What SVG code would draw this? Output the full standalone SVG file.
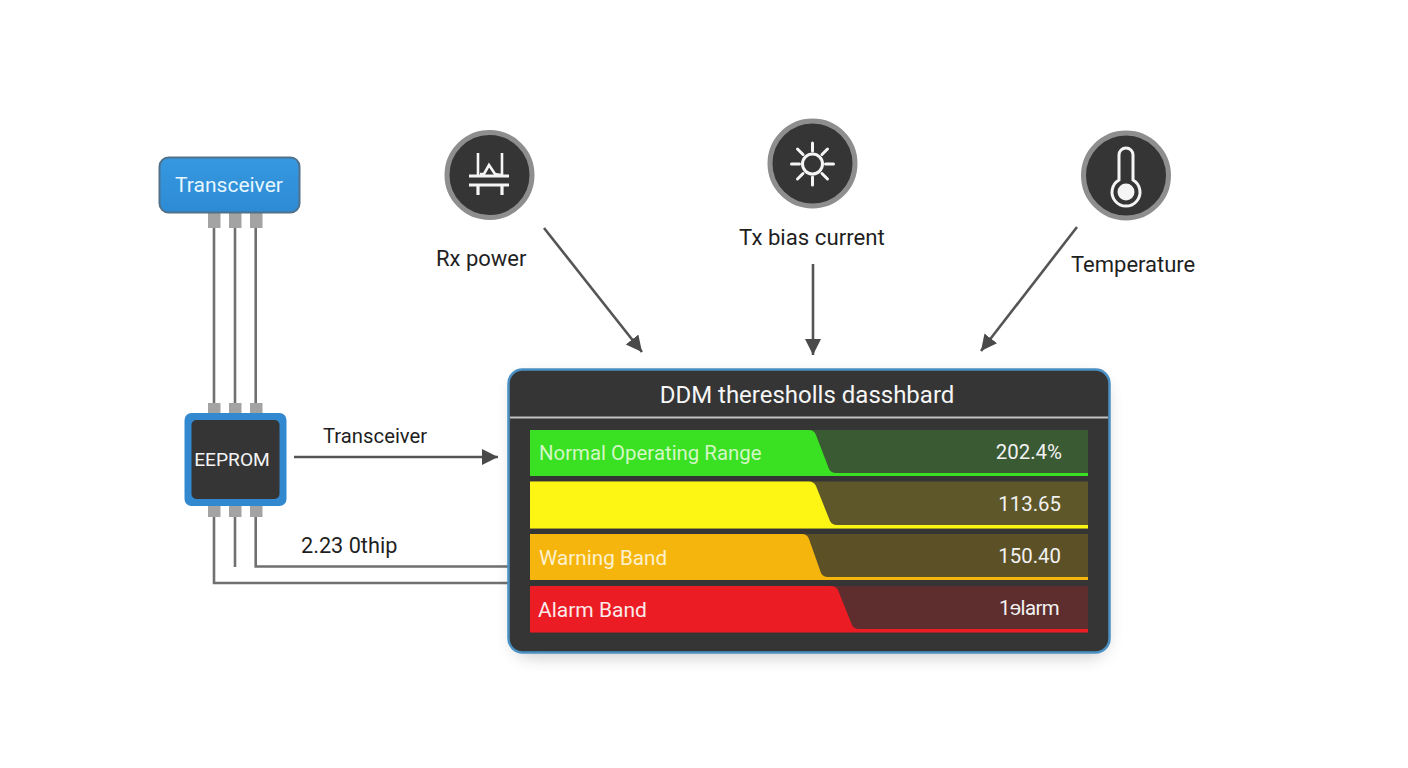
<svg xmlns="http://www.w3.org/2000/svg" width="1408" height="768" viewBox="0 0 1408 768">
<defs>
<filter id="sh" x="-10%" y="-10%" width="120%" height="125%"><feGaussianBlur stdDeviation="9"/></filter>
<linearGradient id="blue" x1="0" y1="0" x2="0" y2="1"><stop offset="0" stop-color="#3598e0"/><stop offset="1" stop-color="#2d8bd4"/></linearGradient>
<marker id="arr" markerUnits="userSpaceOnUse" markerWidth="18" markerHeight="18" refX="16" refY="8" orient="auto"><path d="M0 0L16 8L0 16Z" fill="#4a4a4a"/></marker>
</defs>
<style>
text{font-family:Roboto,"Liberation Sans",sans-serif}
.lab{font-size:22px;fill:#1f1f1f}
.pin{fill:#a3a3a3}
.wire{fill:none;stroke:#707070;stroke-width:2.6}
.arrow{fill:none;stroke:#555;stroke-width:2.6;marker-end:url(#arr)}
.ic{fill:none;stroke:#f5f5f5;stroke-width:2.6}
.disc{fill:#353535;stroke:#8e8e8e;stroke-width:5}
</style>
<rect width="1408" height="768" fill="#ffffff"/>

<g id="connectors">
<path class="wire" d="M214 228V404M235 228V404M255.700 228V404"/>
<path class="wire" d="M214 516V583H510M235 516V567M255.700 516V566.500H510"/>
<path class="arrow" d="M294 457H498"/>
<path class="arrow" d="M544 228L642 352"/>
<path class="arrow" d="M813 264V355"/>
<path class="arrow" d="M1077 227L981 351"/>
</g>

<g id="transceiver">
<rect x="208" y="213" width="12.500" height="15" class="pin"/><rect x="229" y="213" width="12.500" height="15" class="pin"/><rect x="250" y="213" width="12.500" height="15" class="pin"/>
<rect x="159.500" y="157.500" width="140" height="55" rx="9" fill="url(#blue)" stroke="#51718a" stroke-width="2"/>
<text x="229" y="192" text-anchor="middle" font-size="21" fill="#e6f6ff">Transceiver</text>
</g>

<g id="eeprom">
<rect x="208" y="403" width="12.500" height="11" class="pin"/><rect x="229" y="403" width="12.500" height="11" class="pin"/><rect x="250" y="403" width="12.500" height="11" class="pin"/>
<rect x="208" y="505" width="12.500" height="12" class="pin"/><rect x="229" y="505" width="12.500" height="12" class="pin"/><rect x="250" y="505" width="12.500" height="12" class="pin"/>
<rect x="184.500" y="413" width="102" height="93" rx="7" fill="#3389d0"/>
<rect x="191.500" y="420" width="88" height="79" rx="5" fill="#353535"/>
<text x="232" y="466" text-anchor="middle" font-size="19.200" fill="#f4f4f4">EEPROM</text>
</g>
<text class="lab" x="323" y="443" style="font-size:20.300px">Transceiver</text>
<text class="lab" x="301" y="553" style="font-size:21.700px">2.23 0thip</text>

<g id="rx-power">
<circle cx="489.500" cy="175" r="42.500" class="disc"/>
<path class="ic" d="M478 153V176M502 153V176M480 174H484L489 165L495 174L501 175"/>
<path class="ic" d="M469 176H509M469 185H509M478 185V195M502 185V195" style="stroke-width:3.200"/>
<text class="lab" x="436" y="266">Rx power</text>
</g>

<g id="tx-bias">
<circle cx="812.500" cy="163.500" r="42.500" class="disc"/>
<circle cx="812.500" cy="164" r="10" class="ic" style="stroke-width:3"/>
<path class="ic" style="stroke-width:3" stroke-linecap="round" d="M812.500 143V151M812.500 177V185M791.500 164H799.500M825.500 164H833.500M797.500 149L803 154.500M822 173.500L827.500 179M827.500 149L822 154.500M803 173.500L797.500 179"/>
<text class="lab" x="739" y="245" style="font-size:22.200px">Tx bias current</text>
</g>

<g id="temperature">
<circle cx="1126" cy="175.500" r="42.500" class="disc"/>
<path class="ic" style="stroke-width:3" d="M1119 180V155A7 7 0 0 1 1133 155V180A14 14 0 1 1 1119 180Z"/>
<circle cx="1126" cy="192" r="8.500" fill="#f5f5f5"/>
<text class="lab" x="1071" y="272">Temperature</text>
</g>

<g id="dashboard">
<rect x="514" y="378" width="592" height="278" rx="16" fill="#000" opacity="0.22" filter="url(#sh)"/>
<rect x="508.500" y="369.500" width="601" height="283" rx="14" fill="#353535" stroke="#4a90c4" stroke-width="2.500"/>
<path d="M510 417.500H1108" stroke="#c2c2c2" stroke-width="2"/>
<text x="807" y="403" text-anchor="middle" font-size="24" fill="#f6f6f6">DDM theresholls dasshbard</text>

<rect x="530" y="430" width="558" height="46" fill="#3a5a33"/>
<path d="M530 430H809Q814 430 816 435L829 469Q831 473 836 473H1088V476H530Z" fill="#3ae022"/>
<text x="539" y="460" font-size="20.400" fill="#d4f7c6">Normal Operating Range</text>
<text x="1062" y="459" text-anchor="end" font-size="20.400" fill="#f2f2f2">202.4%</text>

<rect x="530" y="481.500" width="558" height="47" fill="#5e5729"/>
<path d="M530 481.500H809Q814 481.500 816 486L830 521Q832 525 837 525H1088V528.500H530Z" fill="#fdf514"/>
<text x="1061" y="511" text-anchor="end" font-size="20.400" fill="#f2f2f2">113.65</text>

<rect x="530" y="534" width="558" height="46" fill="#5c5126"/>
<path d="M530 534H802Q807 534 809 539L821 573Q823 577 828 577H1088V580H530Z" fill="#f6b50d"/>
<text x="539" y="565" font-size="20.700" fill="#fdf1cf">Warning Band</text>
<text x="1061" y="563" text-anchor="end" font-size="20.400" fill="#f2f2f2">150.40</text>

<rect x="530" y="586" width="558" height="46.500" fill="#5e2d2d"/>
<path d="M530 586H831Q836 586 838 590L852 625Q854 629 859 629H1088V632.500H530Z" fill="#ec1c24"/>
<text x="538" y="617" font-size="21" fill="#fbeaea">Alarm Band</text>
<text x="1059" y="615" text-anchor="end" font-size="20.400" letter-spacing="-0.600" fill="#f2f2f2">1ɘlarm</text>
</g>
</svg>
